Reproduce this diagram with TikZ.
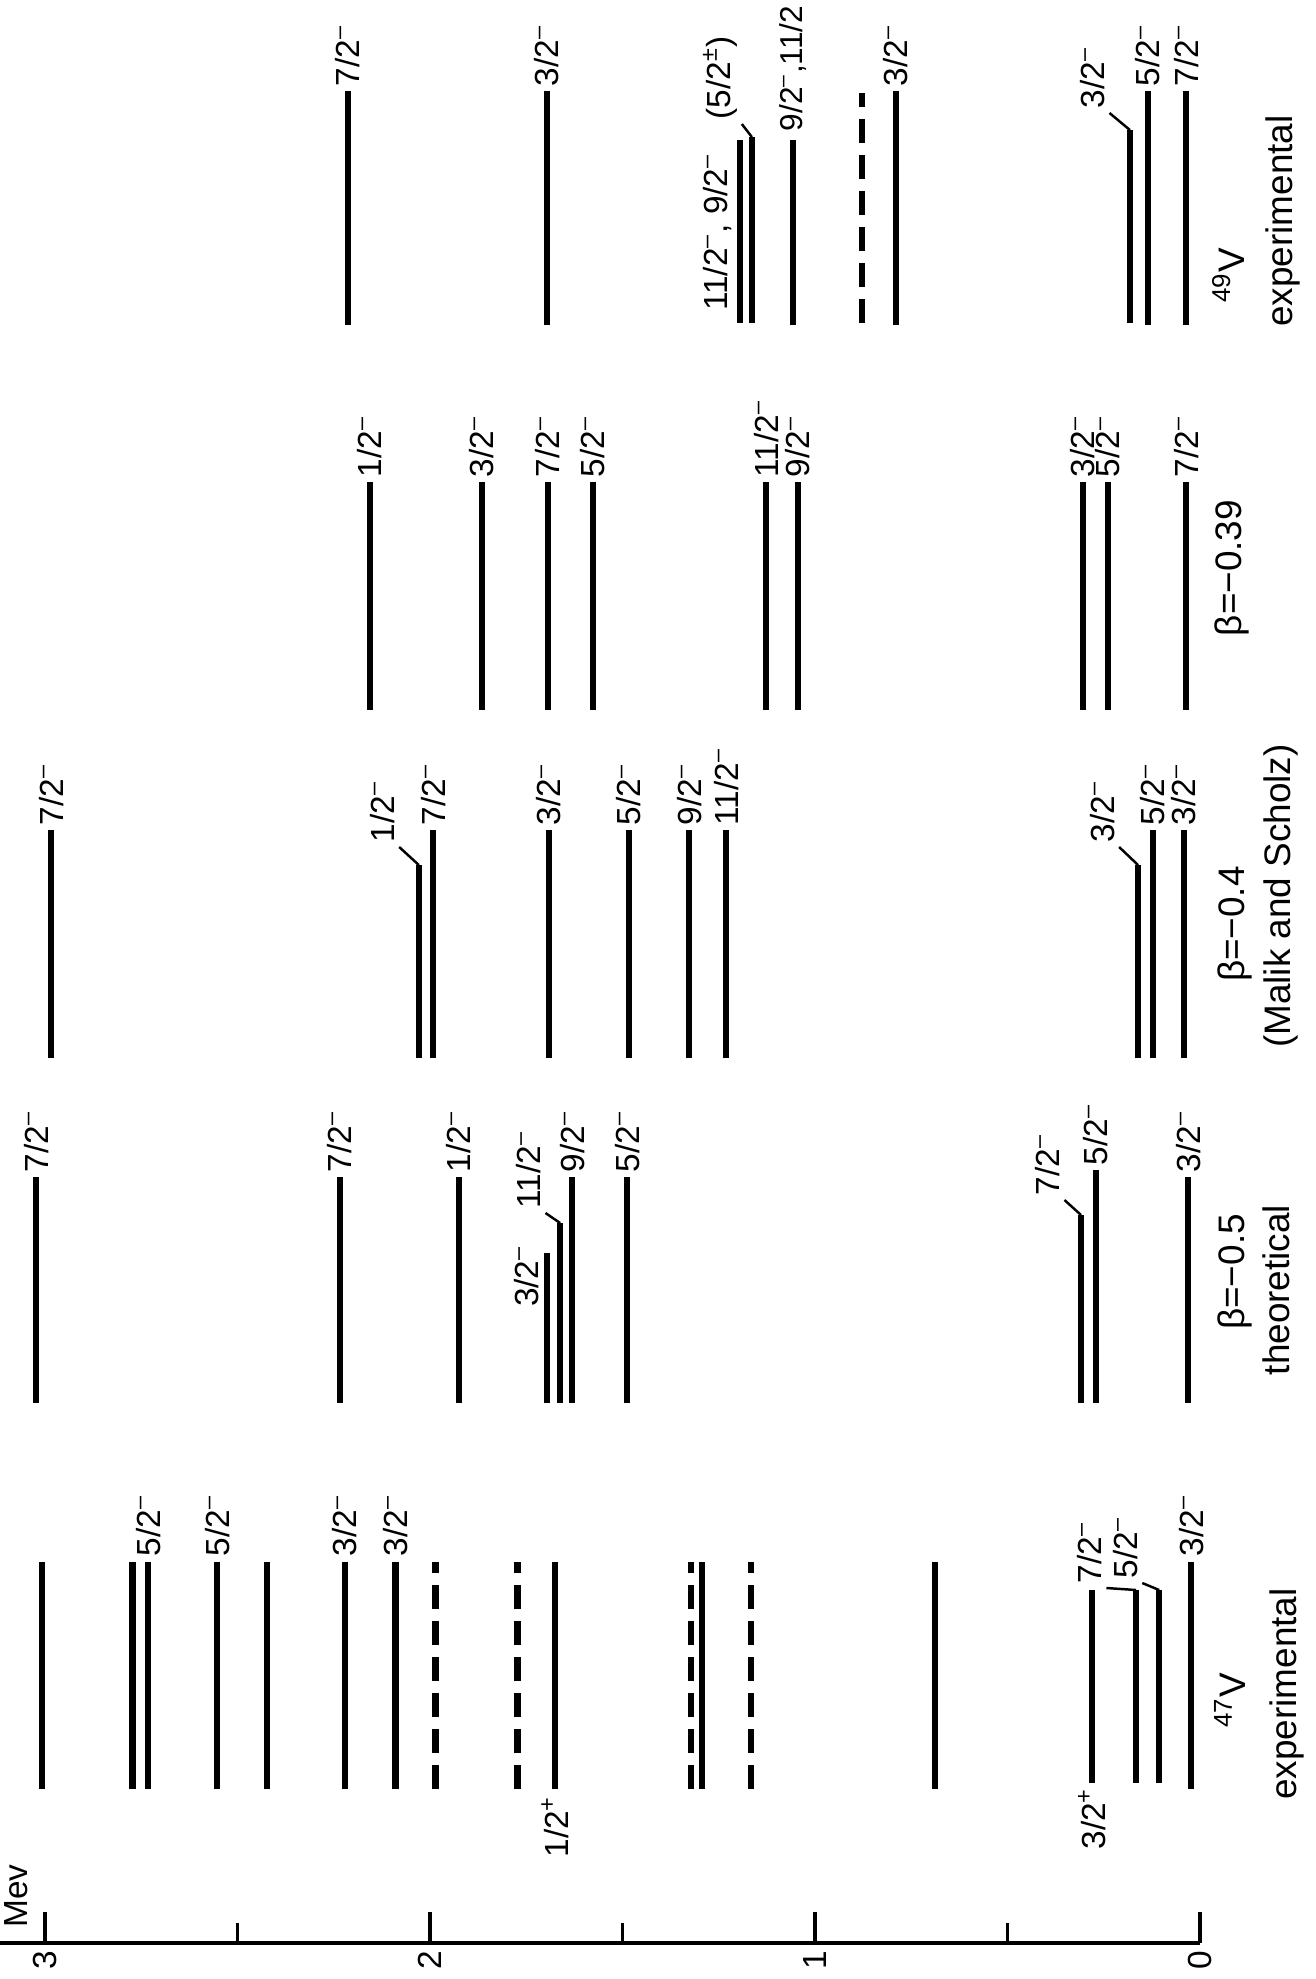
\documentclass[tikz,border=0pt]{standalone}
\usepackage{fontspec}
\setmainfont{Liberation Sans}

% spin and parity label
\newcommand{\jp}[2]{#1/2\textsuperscript{#2}}

\begin{document}
\begin{tikzpicture}[
  every node/.style={font=\fontsize{9.5}{11}\selectfont, inner sep=0.4mm},
  lev/.style={line width=1.8pt},
  levd/.style={line width=1.8pt, dash pattern=on 2.4mm off 1.2mm},
  lead/.style={line width=0.7pt},
  spin/.style={anchor=west},
  tk/.style={line width=1pt},
  ttl/.style={font=\fontsize{10.5}{12}\selectfont},
]
\useasboundingbox (0,0) rectangle (131.5mm,-197.9mm);
\begin{scope}[shift={(120mm,-197.9mm)}, rotate=90, x=1mm, y=38.5mm, transform shape]
% energy axis
\draw[line width=1.1pt] (3.6,0) -- (3.6,3.14);
\foreach \e in {0,1,2,3} {
  \draw[tk] (3.6,\e) -- (6.7,\e);
  \node[anchor=east] (n\e) at (3.3,\e) {\e};
}
\foreach \e in {0.5,1.5,2.5}
  \draw[tk] (3.6,\e) -- (5.6,\e);
\node[anchor=base] (mev) at (8.3,3.045) {Mev};

% 47V experimental
\foreach \e in {3.008, 2.773, 2.732, 2.553, 2.423, 2.221, 2.090, 1.675, 1.294, 0.688, 0.023}
  \draw[lev] (19.0,\e) -- (41.7,\e);
\foreach \e in {1.986, 1.773, 1.322, 1.166}
  \draw[levd] (19.0,\e) -- (41.7,\e);
\foreach \e/\j [count=\n] in {2.732/{\jp5–}, 2.553/{\jp5–}, 2.221/{\jp3–}, 2.090/{\jp3–}, 0.023/{\jp3–}}
  \node[spin] (a\n) at (41.8,\e) {\j};
\draw[lev] (19.6,0.281) coordinate (p3) -- (38.9,0.281);
\draw[lev] (19.6,0.166) -- (38.9,0.166) coordinate (p7);
\draw[lev] (19.6,0.106) -- (38.9,0.106) coordinate (p5);
\node[anchor=east] (a6) at (18.8,1.675) {\jp1+};
\node[anchor=east] (a7) at (p3) {\jp3+};
\node[anchor=south west] (a8) at (39.1,0.243) {\jp7–};
\node[anchor=south west] (a9) at (39.6,0.150) {\jp5–};
\draw[lead] (p7) -- (a8.south west);
\draw[lead] (p5) -- (a9.south west);
\node[ttl] (t1) at (27.9,-0.078) {\textsuperscript{47}V};
\node[ttl] (t2) at (28.5,-0.226) {experimental};

% beta = -0.5, theoretical
\foreach \e/\j [count=\n] in {3.023/{\jp7–}, 2.234/{\jp7–}, 1.925/{\jp1–}, 1.631/{\jp9–}, 1.488/{\jp5–}, 0.031/{\jp3–}} {
  \draw[lev] (57.6,\e) -- (80.2,\e);
  \node[spin] (b\n) at (80.2,\e) {\j};
}
\draw[lev] (57.6,1.696) -- (72.6,1.696);
\draw[lev] (57.6,1.662) -- (75.6,1.662) coordinate (q11);
\draw[lev] (57.6,0.309) -- (76.4,0.309) coordinate (q7);
\draw[lev] (57.6,0.270) -- (80.9,0.270);
\node[spin] (b7) at (80.9,0.270) {\jp5–};
\node[anchor=south east] (b8) at (73.8,1.705) {\jp3–};
\node[anchor=south west] (b9) at (76.6,1.700) {\jp{11}–};
\node[anchor=south west] (b10) at (77.9,0.352) {\jp7–};
\draw[lead] (q11) -- (b9.south west);
\draw[lead] (q7) -- (b10.south west);
\node[ttl] (t3) at (70.7,-0.091) {β=−0.5};
\node[ttl] (t4) at (68.9,-0.197) {theoretical};

% beta = -0.4, Malik and Scholz
\foreach \e/\j [count=\n] in {2.984/{\jp7–}, 1.992/{\jp7–}, 1.691/{\jp3–}, 1.483/{\jp5–}, 1.327/{\jp9–}, 1.231/{\jp{11}–}, 0.122/{\jp5–}, 0.042/{\jp3–}} {
  \draw[lev] (92.1,\e) -- (114.9,\e);
  \node[spin] (c\n) at (114.9,\e) {\j};
}
\draw[lev] (92.1,2.029) -- (111.4,2.029) coordinate (m1);
\draw[lev] (92.1,0.161) -- (111.4,0.161) coordinate (m3);
\node[anchor=south west] (c9) at (113.2,2.080) {\jp1–};
\node[anchor=south west] (c10) at (113.2,0.210) {\jp3–};
\draw[lead] (m1) -- (c9.south west);
\draw[lead] (m3) -- (c10.south west);
\node[ttl] (t5) at (105.5,-0.091) {β=−0.4};
\node[ttl] (t6) at (108.3,-0.210) {(Malik and Scholz)};

% beta = -0.39
\foreach \e/\j [count=\n] in {2.156/{\jp1–}, 1.865/{\jp3–}, 1.694/{\jp7–}, 1.577/{\jp5–}, 1.127/{\jp{11}–}, 1.044/{\jp9–}, 0.304/{\jp3–}, 0.239/{\jp5–}, 0.036/{\jp7–}} {
  \draw[lev] (126.9,\e) -- (149.7,\e);
  \node[spin] (d\n) at (149.7,\e) {\j};
}
\node[ttl] (t7) at (141.1,-0.083) {β=−0.39};

% 49V experimental
\foreach \e/\j [count=\n] in {2.213/{\jp7–}, 1.696/{\jp3–}, 0.790/{\jp3–}, 0.135/{\jp5–}, 0.036/{\jp7–}} {
  \draw[lev] (165.4,\e) -- (188.8,\e);
  \node[spin] (e\n) at (188.8,\e) {\j};
}
\draw[levd] (165.6,0.878) -- (188.6,0.878);
\draw[lev] (165.6,1.195) -- (183.9,1.195);
\draw[lev] (165.6,1.164) -- (184.2,1.164) coordinate (v5);
\draw[lev] (165.4,1.057) -- (183.9,1.057);
\draw[lev] (165.6,0.182) -- (184.9,0.182) coordinate (v3);
\node[anchor=south east] (e6) at (183.0,1.205) {\jp{11}–, \jp9–};
\node[anchor=south west] (e7) at (185.5,1.190) {(\jp5±)};
\node[anchor=west, font=\fontsize{9}{11}\selectfont] (e8) at (184.3,1.057) {\jp9–,11/2};
\node[anchor=south west] (e9) at (186.6,0.235) {\jp3–};
\draw[lead] (v5) -- (e7.south west);
\draw[lead] (v3) -- (e9.south west);
\node[ttl] (t8) at (170.4,-0.073) {\textsuperscript{49}V};
\node[ttl] (t9) at (175.8,-0.216) {experimental};
\end{scope}
\end{tikzpicture}
\end{document}
